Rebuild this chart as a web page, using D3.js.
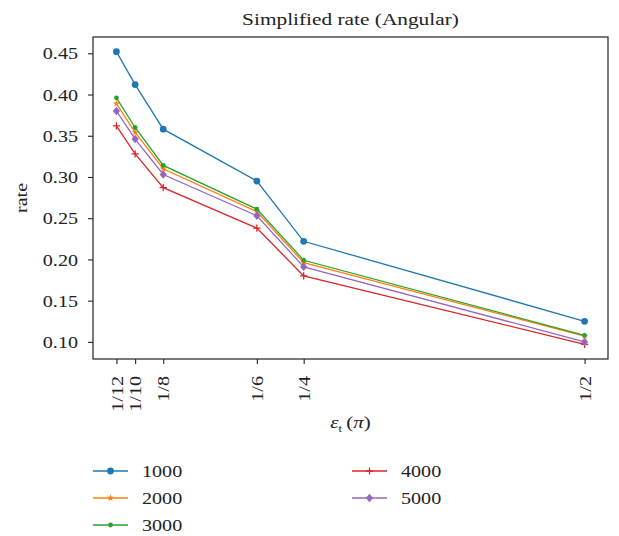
<!DOCTYPE html>
<html>
<head>
<meta charset="utf-8">
<script src="https://cdn.jsdelivr.net/npm/d3@7"></script>
<style>
  html, body { margin: 0; padding: 0; background: #fff; }
  svg { display: block; }
  text { font-family: "Liberation Serif", "Times New Roman", serif; fill: #222; }
</style>
</head>
<body>
<svg id="chart" width="619" height="536"></svg>
<script>
// Tolerance values (in units of pi) and their tick labels
const xValues = [1/12, 1/10, 1/8, 5/24, 1/4, 1/2];
const xTickLabels = ["1/12", "1/10", "1/8", "1/6", "1/4", "1/2"];
const yTicks = [0.10, 0.15, 0.20, 0.25, 0.30, 0.35, 0.40, 0.45];

// Simplified rate per point count
const seriesNames = ["1000", "2000", "3000", "4000", "5000"];
const rate1000 = [0.452, 0.412, 0.358, 0.295, 0.222, 0.125];
const rate2000 = [0.389, 0.354, 0.310, 0.258, 0.196, 0.107];
const rate3000 = [0.396, 0.360, 0.314, 0.261, 0.199, 0.108];
const rate4000 = [0.362, 0.328, 0.287, 0.238, 0.180, 0.097];
const rate5000 = [0.380, 0.346, 0.303, 0.253, 0.191, 0.100];
const seriesValues = [rate1000, rate2000, rate3000, rate4000, rate5000];

const colors = ["#1f77b4", "#ff7f0e", "#2ca02c", "#d62728", "#9467bd"];
const markers = ["circle", "star", "dot", "plus", "diamond"];

const FS = 16.5;     // font size
const SX = 1.22;     // horizontal glyph stretch

const svg = d3.select("#chart");
const plot = { left: 93, right: 608, top: 37, bottom: 359 };

// matplotlib-style 5% margins around the data
const allY = seriesValues.flat();
const yMin = d3.min(allY), yMax = d3.max(allY);
const yPad = (yMax - yMin) * 0.05;
const xMin = d3.min(xValues), xMax = d3.max(xValues);
const xPad = (xMax - xMin) * 0.05;

const x = d3.scaleLinear().domain([xMin - xPad, xMax + xPad]).range([plot.left, plot.right]);
const y = d3.scaleLinear().domain([yMin - yPad, yMax + yPad]).range([plot.bottom, plot.top]);

// Axes
const yAxis = svg.append("g")
  .attr("transform", `translate(${plot.left},0)`)
  .call(d3.axisLeft(y).tickValues(yTicks).tickFormat(d3.format(".2f")).tickSize(5).tickPadding(0));
yAxis.select(".domain").remove();
yAxis.selectAll(".tick line").attr("stroke", "#222").attr("stroke-width", 1.1);
yAxis.selectAll(".tick text")
  .attr("font-size", FS).attr("font-family", null)
  .attr("x", -15 / SX).attr("dy", "0.34em")
  .attr("transform", `scale(${SX},1)`);

const xAxis = svg.append("g")
  .attr("transform", `translate(0,${plot.bottom})`)
  .call(d3.axisBottom(x).tickValues(xValues).tickFormat((d, i) => xTickLabels[i]).tickSize(5).tickPadding(0));
xAxis.select(".domain").remove();
xAxis.selectAll(".tick line").attr("stroke", "#222").attr("stroke-width", 1.1);
xAxis.selectAll(".tick text")
  .attr("font-size", FS).attr("font-family", null)
  .attr("text-anchor", "end")
  .attr("x", 0).attr("y", 0).attr("dy", "0.34em")
  .attr("transform", `translate(0,17) rotate(-90) scale(${SX},1)`);

// Plot frame
svg.append("rect")
  .attr("x", plot.left).attr("y", plot.top)
  .attr("width", plot.right - plot.left).attr("height", plot.bottom - plot.top)
  .attr("fill", "none").attr("stroke", "#222").attr("stroke-width", 1.2);

// Title and axis labels
svg.append("text")
  .attr("transform", `translate(${(plot.left + plot.right) / 2},25) scale(${SX},1)`)
  .attr("text-anchor", "middle").attr("font-size", FS * 1.06)
  .text("Simplified rate (Angular)");

svg.append("text")
  .attr("transform", `translate(27,${(plot.top + plot.bottom) / 2}) rotate(-90) scale(${SX},1)`)
  .attr("text-anchor", "middle").attr("font-size", FS)
  .text("rate");

const xl = svg.append("text")
  .attr("transform", `translate(${(plot.left + plot.right) / 2},428) scale(${SX},1)`)
  .attr("text-anchor", "middle").attr("font-size", FS * 1.04);
xl.append("tspan").attr("font-style", "italic").text("ε");
xl.append("tspan").attr("font-size", FS * 0.62).attr("dy", 4).text("t");
xl.append("tspan").attr("dy", -4).text("\u2009(");
xl.append("tspan").attr("font-style", "italic").text("π");
xl.append("tspan").text(")");

// Marker drawing
function drawMarker(sel, type, color) {
  if (type === "circle") {
    sel.append("circle").attr("r", 3.4).attr("fill", color);
  } else if (type === "dot") {
    sel.append("circle").attr("r", 2.4).attr("fill", color);
  } else if (type === "star") {
    sel.append("path").attr("d", d3.symbol(d3.symbolStar, 16)()).attr("fill", color);
  } else if (type === "plus") {
    sel.append("path").attr("d", "M-3.6,0H3.6M0,-3.6V3.6")
      .attr("stroke", color).attr("stroke-width", 1.3).attr("fill", "none");
  } else if (type === "diamond") {
    sel.append("path").attr("d", "M0,-4.2L3.6,0L0,4.2L-3.6,0Z").attr("fill", color);
  }
}

// Series lines and markers
const line = d3.line().x((d, i) => x(xValues[i])).y(d => y(d));
seriesValues.forEach((vals, s) => {
  const g = svg.append("g");
  g.append("path").datum(vals)
    .attr("d", line).attr("fill", "none")
    .attr("stroke", colors[s]).attr("stroke-width", 1.3);
  vals.forEach((v, i) => {
    const m = g.append("g").attr("transform", `translate(${x(xValues[i])},${y(v)})`);
    drawMarker(m, markers[s], colors[s]);
  });
});

// Legend in two columns
const legendCols = [93, 352];
const legendRows = [471, 498, 525];
seriesNames.forEach((name, s) => {
  const col = Math.floor(s / 3), row = s % 3;
  const g = svg.append("g").attr("transform", `translate(${legendCols[col]},${legendRows[row]})`);
  g.append("line").attr("x1", 0).attr("x2", 35).attr("y1", 0).attr("y2", 0)
    .attr("stroke", colors[s]).attr("stroke-width", 1.3);
  const m = g.append("g").attr("transform", "translate(17.5,0)");
  drawMarker(m, markers[s], colors[s]);
  g.append("text")
    .attr("transform", `translate(49,0) scale(${SX},1)`)
    .attr("dy", "0.34em").attr("font-size", FS)
    .text(name);
});
</script>
</body>
</html>
